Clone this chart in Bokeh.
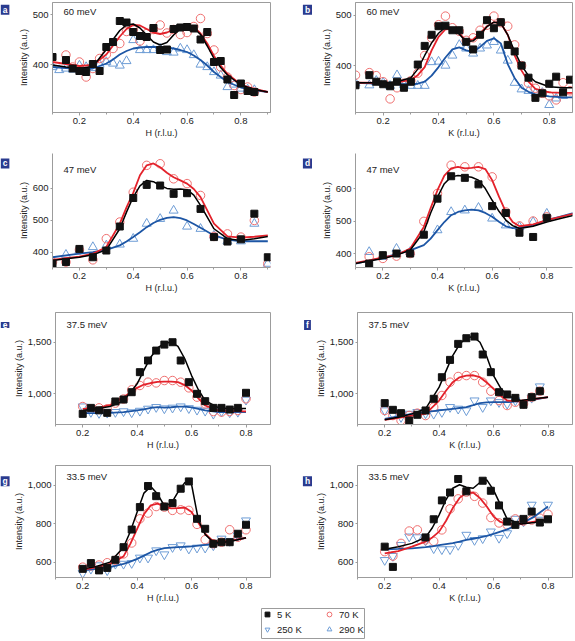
import math
from bokeh.plotting import figure
from bokeh.models import Range1d, FixedTicker, NumeralTickFormatter, Label, Legend, LegendItem, Spacer
from bokeh.layouts import row, column
from bokeh.embed import file_html
from bokeh.resources import INLINE

N = float("nan")

# ---------------- panel a : 60 meV, H scan ----------------
a_x = [0.1, 0.125, 0.15, 0.175, 0.2, 0.225, 0.25, 0.275, 0.3, 0.325, 0.35, 0.375, 0.4, 0.425, 0.45, 0.475,
       0.5, 0.525, 0.55, 0.575, 0.6, 0.625, 0.65, 0.675, 0.7, 0.725, 0.75, 0.775, 0.8, 0.825, 0.85]
a_5K = [415, N, 409, 392, 387, 385, 401, 387, 435, 445, 487, 484, 465, 457, 455, 473,
        429, 430, 471, 474, 475, 472, 450, 465, 405, 407, 370, 339, 362, 347, 345]
a_70K = [N, N, 419, 395, 405, 375, 392, 412, 420, 432, 442, 466, 470, 447, 462, 470,
         479, 463, 470, 460, 464, 476, 492, 462, 429, 395, 375, 358, 350, 355, 345]
a_290K = [395, 389, 392, 390, 398, 395, 393, 400, 405, 402, 398, 407, 449, 429, 429, 429,
          432, 425, 424, 432, 429, 419, 400, 395, 385, 378, 355, 360, 352, 350, 349]
a_fx = [0.1, 0.15, 0.2, 0.25, 0.3, 0.325, 0.35, 0.375, 0.4, 0.425, 0.45, 0.475, 0.5, 0.525, 0.55,
        0.575, 0.6, 0.625, 0.65, 0.675, 0.7, 0.725, 0.75, 0.8, 0.85, 0.9]
a_fit5 = [399, 395, 392, 396, 430, 450, 468, 479, 481, 473, 459, 445, 439, 444, 459,
          471, 476, 473, 460, 437, 412, 394, 379, 359, 350, 345]
a_fit70 = [405, 401, 397, 399, 420, 438, 456, 471, 479, 478, 471, 464, 461, 464, 470,
           476, 479, 475, 462, 442, 417, 398, 381, 360, 351, 345]
a_fit290 = [395, 393, 391, 392, 402, 410, 420, 427, 432, 434, 435, 435, 435, 434, 432,
            429, 425, 418, 409, 398, 385, 375, 365, 354, 349, 345]

# ---------------- panel b : 60 meV, K scan ----------------
b_x = [0.1, 0.125, 0.15, 0.175, 0.2, 0.225, 0.25, 0.275, 0.3, 0.325, 0.35, 0.375, 0.4, 0.425, 0.45, 0.475,
       0.5, 0.525, 0.55, 0.575, 0.6, 0.625, 0.65, 0.675, 0.7, 0.725, 0.75, 0.775, 0.8, 0.825, 0.85, 0.875]
b_5K = [361, N, 381, 368, 363, 359, 368, 356, 368, 402, 439, 461, 478, 479, 470, 470,
        447, 432, 461, 490, 474, 486, 441, 428, 400, 376, 336, 345, 364, 378, 347, 372]
b_70K = [381, N, 386, 380, 368, 334, 356, 365, 370, 385, 420, 455, 481, 498, 475, 468,
         450, 455, 470, 480, 498, 485, 478, 441, 400, 365, 355, 345, 340, 332, 366, 350]
b_290K = [365, N, 361, 370, 366, 360, 381, 362, 360, 360, 360, 407, 408, 400, 420, 441,
          434, 424, 434, 440, 447, 430, 410, 366, 353, 350, 345, 346, 322, 335, 340, N]
b_fx = [0.1, 0.15, 0.2, 0.25, 0.3, 0.325, 0.35, 0.375, 0.4, 0.425, 0.45, 0.475, 0.5, 0.525, 0.55,
        0.575, 0.6, 0.625, 0.65, 0.675, 0.7, 0.725, 0.75, 0.8, 0.85, 0.884]
b_fit5 = [366, 366, 366, 368, 376, 393, 420, 445, 464, 476, 473, 462, 447, 449, 461,
          477, 486, 484, 461, 428, 400, 380, 368, 358, 356, 356]
b_fit70 = [366, 366, 365, 366, 372, 381, 397, 430, 457, 472, 473, 464, 449, 452, 464,
           478, 486, 484, 461, 420, 390, 368, 354, 347, 346, 346]
b_fit290 = [366, 365, 364, 363, 363, 364, 368, 380, 397, 416, 432, 436, 430, 427, 437,
            449, 454, 444, 403, 375, 356, 348, 343, 339, 337, 337]

# ---------------- panel c : 47 meV, H scan ----------------
c_x = [0.1, 0.15, 0.2, 0.25, 0.3, 0.35, 0.4, 0.45, 0.5, 0.55, 0.6, 0.65, 0.7, 0.75, 0.8, 0.85, 0.9]
c_5K = [364, 369, 410, 384, 405, 480, 569, 610, 608, 582, 584, 535, 447, 433, 440, 520, 384]
c_70K = [369, 369, 407, 376, 442, 494, 587, 671, 676, 629, 614, 577, 449, 457, 447, 499, 364]
c_290K = [N, 392, 405, 416, 421, 424, 442, 489, 504, 530, 480, 473, 452, 434, 434, 489, 364]
c_fx = [0.1, 0.15, 0.2, 0.25, 0.3, 0.35, 0.375, 0.4, 0.425, 0.45, 0.475, 0.5, 0.525, 0.55, 0.575,
        0.6, 0.625, 0.65, 0.7, 0.75, 0.8, 0.85, 0.9]
c_fit5 = [374, 379, 384, 392, 407, 473, 525, 572, 607, 624, 620, 608, 599, 596, 597,
          595, 578, 546, 473, 442, 436, 442, 449]
c_fit70 = [376, 381, 386, 395, 416, 489, 540, 585, 640, 671, 677, 665, 648, 634, 624,
           614, 597, 572, 489, 449, 445, 448, 452]
c_fit290 = [384, 390, 395, 400, 407, 421, 433, 447, 462, 478, 491, 501, 507, 509, 506,
            499, 488, 476, 452, 439, 434, 434, 434]

# ---------------- panel d : 47 meV, K scan ----------------
d_x = [0.15, 0.2, 0.25, 0.3, 0.35, 0.4, 0.45, 0.5, 0.55, 0.6, 0.65, 0.7, 0.75, 0.8]
d_5K = [369, 395, 400, 400, 458, 569, 638, 633, 613, 546, 525, 464, 451, 510]
d_70K = [390, 385, 392, 400, 499, 585, 672, 667, 667, 636, 528, 485, 500, 513]
d_290K = [405, 390, 415, 405, N, 472, 528, 533, 541, 508, 487, 482, 497, 523]
d_fx = [0.1, 0.15, 0.2, 0.25, 0.3, 0.35, 0.375, 0.4, 0.425, 0.45, 0.475, 0.5, 0.525, 0.55, 0.575,
        0.6, 0.625, 0.65, 0.675, 0.7, 0.75, 0.8, 0.85, 0.9]
d_fit5 = [369, 377, 385, 395, 410, 467, 525, 574, 615, 636, 640, 638, 635, 626, 600,
          564, 530, 503, 486, 477, 484, 497, 508, 518]
d_fit70 = [371, 379, 388, 395, 415, 482, 540, 595, 640, 662, 667, 662, 664, 667, 660,
           626, 575, 528, 497, 484, 490, 503, 513, 523]
d_fit290 = [369, 378, 387, 398, 410, 426, 446, 472, 497, 518, 528, 533, 535, 533, 525,
            513, 498, 484, 478, 480, 487, 503, 514, 525]

# ---------------- panel e : 37.5 meV, H scan ----------------
e_x = [0.2, 0.23, 0.26, 0.29, 0.32, 0.35, 0.38, 0.41, 0.44, 0.47, 0.5, 0.53, 0.56, 0.59, 0.62,
       0.65, 0.68, 0.71, 0.74, 0.77, 0.8]
e_5K = [806, 864, 840, 816, 926, 945, 1016, 1210, 1323, 1419, 1477, 1500, 1323, 1113, 1000,
        929, 864, 864, 848, 864, 1010]
e_70K = [877, 850, 864, 855, 910, 950, 1039, 1081, 1113, 1106, 1129, 1129, 1113, 1058, 968,
         903, 829, 823, 829, 839, 952]
e_250K = [877, 823, 813, 816, 823, 830, 820, 835, 855, 871, 858, 865, 877, 860, 845,
          835, 806, 830, 820, 825, 942]
e_fx = [0.2, 0.25, 0.3, 0.35, 0.4, 0.425, 0.45, 0.475, 0.5, 0.525, 0.55, 0.575, 0.6, 0.625,
        0.65, 0.7, 0.75, 0.8]
e_fit5 = [839, 855, 877, 930, 1097, 1230, 1355, 1445, 1490, 1500, 1460, 1340, 1177, 1040,
          935, 864, 858, 858]
e_fit70 = [855, 862, 890, 968, 1058, 1090, 1105, 1115, 1119, 1118, 1113, 1085, 1032, 955,
           887, 835, 832, 830]
e_fit250 = [813, 813, 815, 823, 839, 850, 864, 872, 866, 870, 877, 877, 868, 855,
            840, 823, 823, 823]

# ---------------- panel f : 37.5 meV, K scan ----------------
f_x = [0.2, 0.23, 0.26, 0.29, 0.32, 0.35, 0.38, 0.41, 0.44, 0.47, 0.5, 0.53, 0.56, 0.59, 0.62,
       0.65, 0.68, 0.71, 0.74, 0.77]
f_5K = [910, 845, 813, 742, 797, 839, 952, 1161, 1329, 1484, 1539, 1555, 1381, 1210, 1016,
        994, 961, 894, 968, 1026]
f_70K = [839, 790, 742, 790, 813, 790, 871, 984, 1113, 1168, 1177, 1177, 1113, 1026, 935,
         887, 919, 903, 968, 1026]
f_250K = [839, 800, 774, 806, 823, 810, 806, 823, 871, 855, 839, 935, 871, 935, 919,
          903, 935, 910, 961, 1071]
f_fx = [0.2, 0.25, 0.3, 0.35, 0.4, 0.425, 0.45, 0.475, 0.5, 0.525, 0.55, 0.575, 0.6, 0.625,
        0.65, 0.7, 0.75, 0.8]
f_fit5 = [748, 774, 806, 855, 1065, 1220, 1371, 1480, 1542, 1555, 1500, 1360, 1177, 1060,
          984, 935, 952, 968]
f_fit70 = [748, 768, 790, 806, 935, 1030, 1113, 1160, 1177, 1180, 1161, 1110, 1048, 985,
           935, 925, 950, 968]
f_fit250 = [758, 782, 806, 822, 839, 847, 855, 863, 871, 890, 910, 917, 919, 919,
            919, 929, 945, 968]

# ---------------- panel g : 33.5 meV, H scan ----------------
g_x = [0.2, 0.23, 0.26, 0.29, 0.32, 0.35, 0.38, 0.41, 0.44, 0.47, 0.5, 0.53, 0.56, 0.59, 0.62,
       0.65, 0.68, 0.71, 0.74, 0.77, 0.8]
g_5K = [565, 595, 557, 570, 612, 678, 770, 887, 997, 944, 890, 908, 983, 1021, 826,
        774, 696, 704, 704, 748, 795]
g_70K = [574, 580, 585, 597, 610, 643, 700, 826, 856, 890, 887, 870, 873, 870, 797,
         717, 696, 704, 769, 730, 769]
g_250K = [543, 565, 583, 557, 591, 591, 595, 623, 623, 661, 640, 678, 687, 670, 675,
          675, 687, 722, 710, 739, 817]
g_fx = [0.2, 0.25, 0.3, 0.35, 0.375, 0.4, 0.425, 0.45, 0.475, 0.5, 0.525, 0.55, 0.575, 0.6,
        0.625, 0.65, 0.675, 0.7, 0.75, 0.8]
g_fit5 = [565, 577, 600, 678, 760, 861, 960, 995, 955, 895, 905, 965, 1015, 1005,
          820, 745, 710, 700, 710, 727]
g_fit70 = [560, 574, 591, 630, 695, 774, 850, 896, 905, 890, 880, 882, 885, 862,
           805, 748, 715, 704, 713, 727]
g_fit250 = [557, 565, 574, 591, 603, 617, 634, 652, 664, 673, 676, 678, 680, 682,
            686, 690, 694, 699, 713, 727]

# ---------------- panel h : 33.5 meV, K scan ----------------
h_x = [0.2, 0.23, 0.26, 0.29, 0.32, 0.35, 0.38, 0.41, 0.44, 0.47, 0.5, 0.53, 0.56, 0.59, 0.62,
       0.65, 0.68, 0.71, 0.74, 0.77, 0.8]
h_5K = [682, 577, N, N, N, 730, 824, 922, 963, 1033, 969, N, 1024, 972, 896,
        812, 795, 826, 864, 807, 824]
h_70K = [656, 633, 699, 763, 769, 717, 710, 769, 878, 930, 965, 943, 908, 833, 805,
         795, 826, 815, 820, 830, 850]
h_250K = [612, 633, 690, 734, 730, 713, 673, 668, 668, 690, 743, 716, 725, 760, 727,
          751, 826, 812, 899, 821, 899]
h_fx = [0.2, 0.25, 0.3, 0.35, 0.375, 0.4, 0.425, 0.45, 0.475, 0.5, 0.525, 0.55, 0.575, 0.6,
        0.625, 0.65, 0.7, 0.75, 0.8]
h_fit5 = [668, 682, 699, 730, 780, 847, 925, 985, 1003, 990, 985, 1015, 1028, 975,
          900, 825, 800, 807, 821]
h_fit70 = [647, 659, 682, 708, 730, 760, 815, 882, 935, 960, 963, 934, 890, 838,
           810, 800, 800, 812, 824]
h_fit250 = [668, 670, 673, 680, 684, 690, 695, 700, 708, 717, 723, 730, 738, 748,
            760, 772, 800, 838, 890]

panel_letters = ["a", "b", "c", "d", "e", "f", "g", "h"]
panel_energies = ["60 meV", "60 meV", "47 meV", "47 meV", "37.5 meV", "37.5 meV", "33.5 meV", "33.5 meV"]
x_titles = ["H (r.l.u.)", "K (r.l.u.)"]
y_title = "Intensity (a.u.)"
x_tick_values = [0.2, 0.4, 0.6, 0.8]
x_minor_values = [0.1, 0.3, 0.5, 0.7, 0.9]
legend_labels = ["5 K", "70 K", "250 K", "290 K"]

# ---------------- styling ----------------
FONT = "Liberation Sans"
GREY = "#9c9c9c"
BLACK = "#111111"
RED_LINE = "#e3222b"
RED_MARK = "#f07070"
BLUE_LINE = "#1d56a5"
BLUE_MARK = "#6e9dd6"
LABEL_BG = "#2a3b8f"

# widths: [letter column | panel] x 2
LET_W = [10, 22]
PAN_W = [280, 261]
PAN_BL = [42, 43]
PAN_BR = [20, 1]
LET_CX = [4.5, 17]


def make_letter(col, height, bt, lab_dy, letter):
    w = LET_W[col]
    f = figure(width=w, height=height, x_range=Range1d(0, w), y_range=Range1d(0, height),
               output_backend="svg", toolbar_location=None, min_border=0,
               x_axis_location=None, y_axis_location=None,
               background_fill_color="white", border_fill_color="white")
    f.grid.visible = False
    f.outline_line_color = None
    f.add_layout(Label(x=LET_CX[col], y=height - bt - lab_dy, text=letter,
                       text_align="center", text_baseline="middle", text_color="white",
                       text_font=FONT, text_font_style="bold", text_font_size="8.5px",
                       background_fill_color=LABEL_BG, padding=(2, 0)))
    return f


def make_panel(col, height, bt, bb, xr, yr, yticks, energy,
               px, y5, y70, yhot, hot_marker, fx, f5, f70, fhot, boxed, en_dy):
    p = figure(width=PAN_W[col], height=height, x_range=Range1d(*xr), y_range=Range1d(*yr),
               output_backend="svg", toolbar_location=None,
               min_border_left=PAN_BL[col], min_border_right=PAN_BR[col],
               min_border_top=bt, min_border_bottom=bb,
               background_fill_color="white", border_fill_color="white")
    p.grid.visible = False
    p.outline_line_color = GREY if boxed else None
    p.outline_line_width = 1

    p.xaxis.ticker = FixedTicker(ticks=x_tick_values, minor_ticks=x_minor_values)
    p.yaxis.ticker = FixedTicker(ticks=yticks)
    p.yaxis.formatter = NumeralTickFormatter(format="0,0")
    p.xaxis.axis_label = x_titles[col]
    p.yaxis.axis_label = y_title
    for ax in (p.xaxis[0], p.yaxis[0]):
        ax.axis_line_color = GREY
        ax.major_tick_line_color = GREY
        ax.minor_tick_line_color = GREY
        ax.major_tick_in = 0
        ax.major_tick_out = 3
        ax.minor_tick_in = 0
        ax.minor_tick_out = 2
        ax.major_label_text_font = FONT
        ax.major_label_text_font_size = "9.5px"
        ax.major_label_text_color = "#222222"
        ax.axis_label_text_font = FONT
        ax.axis_label_text_font_size = "9px"
        ax.axis_label_text_font_style = "normal"
        ax.axis_label_text_color = "#222222"
        ax.major_label_standoff = 2
        ax.axis_label_standoff = 1
    p.yaxis.major_tick_out = 2
    p.yaxis.axis_label_standoff = 1

    p.scatter(px, yhot, marker=hot_marker, size=9, fill_color=None,
              line_color=BLUE_MARK, line_width=1)
    p.scatter(px, y70, marker="circle", size=8.5, fill_color=None,
              line_color=RED_MARK, line_width=1)
    p.line(fx, fhot, line_color=BLUE_LINE, line_width=1.8)
    p.line(fx, f70, line_color=RED_LINE, line_width=1.8)
    p.line(fx, f5, line_color="black", line_width=1.5)
    p.scatter(px, y5, marker="square", size=7, fill_color=BLACK, line_color=BLACK)

    p.add_layout(Label(x=xr[0], y=yr[1], x_offset=11, y_offset=-en_dy, text=energy,
                       text_align="left", text_baseline="middle", text_color="#222222",
                       text_font=FONT, text_font_size="9.5px"))
    return p


def make_row(height, bt, bb, lab_dy, en_dy, boxed, left, right):
    figs = []
    for col, spec in enumerate((left, right)):
        (letter, energy, xr, yr, yticks, px, y5, y70, yhot, hot_marker, fx, f5, f70, fhot) = spec
        figs.append(make_letter(col, height, bt, lab_dy, letter))
        figs.append(make_panel(col, height, bt, bb, xr, yr, yticks, energy,
                               px, y5, y70, yhot, hot_marker, fx, f5, f70, fhot, boxed, en_dy))
    return row(*figs, spacing=0)


row1 = make_row(150, 2, 38, 8, 9, True,
                (panel_letters[0], panel_energies[0], (0.1, 0.91), (304, 524), [400, 500],
                 a_x, a_5K, a_70K, a_290K, "triangle", a_fx, a_fit5, a_fit70, a_fit290),
                (panel_letters[1], panel_energies[1], (0.1, 0.884), (307, 525), [400, 500],
                 b_x, b_5K, b_70K, b_290K, "triangle", b_fx, b_fit5, b_fit70, b_fit290))
row2 = make_row(150, 3, 33, 10, 16, False,
                (panel_letters[2], panel_energies[2], (0.1, 0.91), (352, 708), [400, 500, 600],
                 c_x, c_5K, c_70K, c_290K, "triangle", c_fx, c_fit5, c_fit70, c_fit290),
                (panel_letters[3], panel_energies[3], (0.1, 0.894), (357, 708), [400, 500, 600],
                 d_x, d_5K, d_70K, d_290K, "triangle", d_fx, d_fit5, d_fit70, d_fit290))
row3 = make_row(152, 12, 28, 5, 12, True,
                (panel_letters[4], panel_energies[4], (0.1, 0.89), (703, 1788), [1000, 1500],
                 e_x, e_5K, e_70K, e_250K, "inverted_triangle", e_fx, e_fit5, e_fit70, e_fit250),
                (panel_letters[5], panel_energies[5], (0.1, 0.89), (703, 1788), [1000, 1500],
                 f_x, f_5K, f_70K, f_250K, "inverted_triangle", f_fx, f_fit5, f_fit70, f_fit250))
row4 = make_row(156, 13, 31, 9, 11, True,
                (panel_letters[6], panel_energies[6], (0.1, 0.89), (520, 1104), [600, 800, 1000],
                 g_x, g_5K, g_70K, g_250K, "inverted_triangle", g_fx, g_fit5, g_fit70, g_fit250),
                (panel_letters[7], panel_energies[7], (0.1, 0.89), (522, 1103), [600, 800, 1000],
                 h_x, h_5K, h_70K, h_250K, "inverted_triangle", h_fx, h_fit5, h_fit70, h_fit250))

# ---------------- legend ----------------
lf = figure(width=104, height=31, x_range=Range1d(0, 1), y_range=Range1d(0, 1),
            output_backend="svg", toolbar_location=None, min_border=0,
            x_axis_location=None, y_axis_location=None,
            background_fill_color="white", border_fill_color="white")
lf.grid.visible = False
lf.outline_line_color = GREY
r5 = lf.scatter(x=[N], y=[N], marker="square", size=7, fill_color=BLACK, line_color=BLACK)
r70 = lf.scatter(x=[N], y=[N], marker="circle", size=8.5, fill_color=None, line_color=RED_MARK, line_width=1)
r250 = lf.scatter(x=[N], y=[N], marker="inverted_triangle", size=9, fill_color=None,
                  line_color=BLUE_MARK, line_width=1)
r290 = lf.scatter(x=[N], y=[N], marker="triangle", size=9, fill_color=None,
                  line_color=BLUE_MARK, line_width=1)


def style_legend(leg, pad, lw):
    leg.border_line_color = None
    leg.background_fill_alpha = 0
    leg.margin = 0
    leg.padding = pad
    leg.spacing = 3
    leg.glyph_width = 12
    leg.glyph_height = 12
    leg.label_height = 12
    leg.label_width = lw
    leg.label_standoff = 4
    leg.label_text_font = FONT
    leg.label_text_font_size = "9.5px"
    leg.label_text_color = "#222222"


leg1 = Legend(items=[LegendItem(label=legend_labels[0], renderers=[r5]),
                     LegendItem(label=legend_labels[2], renderers=[r250])], location="top_left")
leg2 = Legend(items=[LegendItem(label=legend_labels[1], renderers=[r70]),
                     LegendItem(label=legend_labels[3], renderers=[r290])], location="top_right")
style_legend(leg1, 3, 20)
style_legend(leg2, 4, 26)
lf.add_layout(leg1, "center")
lf.add_layout(leg2, "center")

layout = column(row1, row2, row3, row4,
                row(Spacer(width=261, height=31), lf, spacing=0),
                spacing=0)

open("out.html", "w").write(file_html(layout, INLINE))
